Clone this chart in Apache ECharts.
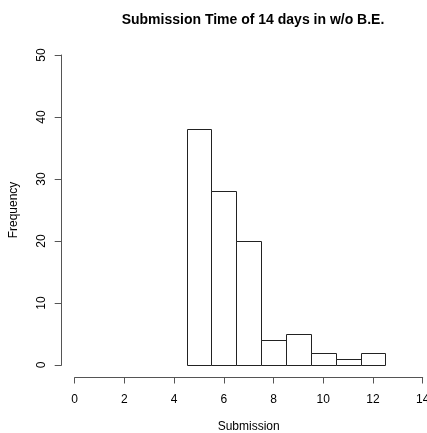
<!DOCTYPE html>
<html>
<head>
<meta charset="utf-8">
<script src="https://cdn.jsdelivr.net/npm/echarts@6/dist/echarts.min.js"></script>
<style>
  html, body { margin: 0; padding: 0; background: #fff; }
  #main { width: 427px; height: 433px; }
</style>
</head>
<body>
<div id="main"></div>
<script>
// histogram bins (left edge, right edge) and counts
var binStart = [4.5, 5.5, 6.5, 7.5, 8.5, 9.5, 10.5, 11.5];
var binEnd = [5.5, 6.5, 7.5, 8.5, 9.5, 10.5, 11.5, 12.5];
var counts = [38, 28, 20, 4, 5, 2, 1, 2];

var xTicks = [0, 2, 4, 6, 8, 10, 12, 14];
var yTicks = [0, 10, 20, 30, 40, 50];

var data = [];
for (var i = 0; i < counts.length; i++) {
    data.push([binStart[i], binEnd[i], counts[i]]);
}

var fontFam = '"Liberation Sans", Arial, Helvetica, sans-serif';
var axisColor = '#555';

var myChart = echarts.init(document.getElementById('main'));
var option = {
    backgroundColor: '#fff',
    animation: false,
    title: {
        text: 'Submission Time of 14 days in w/o B.E.',
        left: 248,
        top: 8,
        textAlign: 'center',
        textStyle: {
            fontFamily: fontFam,
            fontSize: 14,
            fontWeight: 'bold',
            color: '#000'
        }
    },
    grid: {
        left: 74.7,
        right: 4.3,
        top: 55,
        bottom: 68,
        containLabel: false,
        outerBoundsMode: 'none'
    },
    xAxis: {
        type: 'value',
        min: xTicks[0],
        max: xTicks[xTicks.length - 1],
        interval: 2,
        offset: 12.5,
        name: 'Submission',
        nameLocation: 'middle',
        nameGap: 43,
        nameTextStyle: { fontFamily: fontFam, fontSize: 12, color: '#000' },
        axisLine: { show: true, onZero: false, lineStyle: { color: axisColor, width: 1 } },
        axisTick: { show: true, length: 6, lineStyle: { color: axisColor } },
        axisLabel: { fontFamily: fontFam, fontSize: 12, color: '#000', margin: 16, showMinLabel: true, showMaxLabel: true, hideOverlap: false },
        splitLine: { show: false }
    },
    yAxis: {
        type: 'value',
        min: yTicks[0],
        max: yTicks[yTicks.length - 1],
        interval: 10,
        offset: 13,
        name: 'Frequency',
        nameLocation: 'middle',
        nameGap: 42,
        nameRotate: 90,
        nameTextStyle: { fontFamily: fontFam, fontSize: 12, color: '#000' },
        axisLine: { show: true, onZero: false, lineStyle: { color: axisColor, width: 1 } },
        axisTick: { show: true, length: 7, lineStyle: { color: axisColor } },
        axisLabel: { fontFamily: fontFam, fontSize: 12, color: '#000', rotate: 90, margin: 14, hideOverlap: false },
        splitLine: { show: false }
    },
    series: [
        {
            type: 'custom',
            data: data,
            encode: { x: [0, 1], y: 2 },
            renderItem: function (params, api) {
                var p0 = api.coord([api.value(0), 0]);
                var p1 = api.coord([api.value(1), api.value(2)]);
                return {
                    type: 'rect',
                    shape: {
                        x: Math.round(p0[0]) + 0.5,
                        y: Math.round(p1[1]) + 0.5,
                        width: Math.round(p1[0]) - Math.round(p0[0]),
                        height: Math.round(p0[1]) - Math.round(p1[1])
                    },
                    style: {
                        fill: '#fff',
                        stroke: '#222',
                        lineWidth: 1
                    }
                };
            }
        }
    ]
};
myChart.setOption(option);
</script>
</body>
</html>
